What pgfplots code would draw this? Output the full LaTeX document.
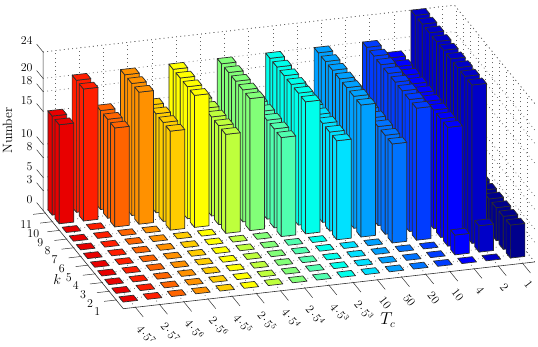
\documentclass[border=0pt]{standalone}
\usepackage{pgfplots}
\usepackage{pgfplotstable}
\pgfplotsset{compat=1.18}

% one colour per T_c column
\definecolor{c1}{RGB}{232,0,0}
\definecolor{c2}{RGB}{255,30,0}
\definecolor{c3}{RGB}{255,100,0}
\definecolor{c4}{RGB}{255,145,0}
\definecolor{c5}{RGB}{255,205,0}
\definecolor{c6}{RGB}{255,255,0}
\definecolor{c7}{RGB}{190,255,60}
\definecolor{c8}{RGB}{130,255,120}
\definecolor{c9}{RGB}{80,255,175}
\definecolor{c10}{RGB}{0,255,235}
\definecolor{c11}{RGB}{0,225,255}
\definecolor{c12}{RGB}{0,160,255}
\definecolor{c13}{RGB}{0,115,255}
\definecolor{c14}{RGB}{0,60,255}
\definecolor{c15}{RGB}{0,0,255}
\definecolor{c16}{RGB}{0,0,200}
\definecolor{c17}{RGB}{0,0,140}
\definecolor{edge}{RGB}{45,45,45}

% rows are k = 1..11, columns are the T_c positions
\pgfplotstableread{
k c1 c2 c3 c4 c5 c6 c7 c8 c9 c10 c11 c12 c13 c14 c15 c16 c17
1 0 0 0 0 0 0 0 0 0 0 0 0 0 0 0 0 5
2 0 0 0 0 0 0 0 0 0 0 0 0 0 0 3 4 5
3 0 0 0 0 0 0 0 0 0 0 0 0 0 0 18 24 5
4 0 0 0 0 0 0 0 0 0 0 0 0 15 20 18 24 5
5 0 0 0 0 0 0 0 0 0 0 15 20 15 20 18 24 5
6 0 0 0 0 0 0 0 0 15 20 15 20 15 20 18 24 5
7 0 0 0 0 0 0 15 20 15 20 15 20 15 20 18 24 5
8 0 0 0 0 15 20 15 20 15 20 15 20 15 20 18 24 5
9 0 0 15 20 15 20 15 20 15 20 15 20 15 20 18 24 5
10 15 20 15 20 15 20 15 20 15 20 15 20 15 20 18 24 5
11 15 20 15 20 15 20 15 20 15 20 15 20 15 20 18 24 5
}\heights

\def\hw{0.3}
\newcommand{\onebar}[3]{% column, row, colour
  \pgfmathtruncatemacro{\r}{#2-1}
  \pgfplotstablegetelem{\r}{c#1}\of\heights
  \let\h\pgfplotsretval
  \pgfmathsetmacro{\xa}{#1-\hw}\pgfmathsetmacro{\xb}{#1+\hw}
  \pgfmathsetmacro{\ya}{#2-\hw}\pgfmathsetmacro{\yb}{#2+\hw}
  \pgfmathtruncatemacro{\flat}{\h==0 ? 1 : 0}
  \ifnum\flat=0
    \edef\doit{\noexpand\addplot3[bar face,fill=#3] coordinates {(\xa,\ya,0) (\xa,\yb,0) (\xa,\yb,\h) (\xa,\ya,\h)} -- cycle;
      \noexpand\addplot3[bar face,fill=#3] coordinates {(\xa,\ya,0) (\xb,\ya,0) (\xb,\ya,\h) (\xa,\ya,\h)} -- cycle;}
    \doit
  \fi
  \edef\doit{\noexpand\addplot3[bar face,fill=#3] coordinates {(\xa,\ya,\h) (\xb,\ya,\h) (\xb,\yb,\h) (\xa,\yb,\h)} -- cycle;}
  \doit
}

\tikzset{griddots/.style={black!60,line width=0.7pt,dash pattern=on 0.8pt off 3.4pt}}
\newcommand{\tl}[2]{$#1\mkern-2.5mu\cdot\mkern-2.5mu5^{#2}$}

\begin{document}
\begin{tikzpicture}
\useasboundingbox (0,0) rectangle (538bp,347bp);
\begin{axis}[
  at={(123.3bp,38.3bp)}, anchor=origin,
  x={(24.2bp,2.75bp)}, y={(-7.1bp,8.7bp)}, z={(0bp,6.6bp)},
  xmin=0.5, xmax=17.5, ymin=0, ymax=11.3, zmin=0, zmax=24,
  clip=false,
  axis line style={draw=none},
  grid=major, grid style={griddots},
  tick style={draw=none},
  major tick length=10bp,
  xtick={1,...,17},
  xticklabels={\tl47,\tl27,\tl46,\tl26,\tl45,\tl25,\tl44,\tl24,\tl43,\tl23,10,50,20,10,4,2,1},
  ytick={1,...,11},
  ztick={0,3,5,8,10,15,18,20,24},
  tick label style={font=\fontsize{12}{14}\selectfont},
  x tick label style={xshift=2bp,yshift=-16bp,anchor=west,rotate=-52},
  y tick label style={anchor=center,xshift=-19bp,yshift=-12bp},
  z tick label style={anchor=east,xshift=-7bp,yshift=11bp},
  xlabel={$T_c$}, ylabel={$k$}, zlabel={Number},
  every axis x label/.style={at={(axis cs:10.15,-4.37,0)},anchor=center,font=\fontsize{16}{18}\selectfont},
  every axis y label/.style={at={(axis cs:-1.08,3.91,0)},anchor=center,font=\fontsize{15}{17}\selectfont},
  every axis z label/.style={at={(axis cs:0.5,16.3,5.5)},rotate=90,anchor=center,font=\fontsize{13.5}{16}\selectfont},
  bar face/.style={draw=edge,line width=0.7pt,line join=round,forget plot},
]
\draw[griddots] (axis cs:0.5,11.3,24) -- (axis cs:17.5,11.3,24) -- (axis cs:17.5,0,24);
\draw[griddots] (axis cs:17.5,0,0) -- (axis cs:17.5,11.3,0);
\draw[black!80,line width=0.6pt] (axis cs:17.5,0,0) -- (axis cs:0.5,0,0) -- (axis cs:0.5,11.3,0) -- (axis cs:0.5,11.3,24);
\pgfplotsinvokeforeach{1,...,17}{\draw[black!80,line width=0.5pt] (axis cs:#1,0,0) -- (axis cs:#1,-1.1,0);}
\pgfplotsinvokeforeach{1,...,11}{\draw[black!80,line width=0.5pt] (axis cs:0.5,#1,0) -- (axis cs:0,#1,0);}
\pgfplotsinvokeforeach{0,3,5,8,10,15,18,20,24}{\draw[black!80,line width=0.5pt] (axis cs:0.5,11.3,#1) -- (axis cs:0.5,12.2,#1);}
\foreach \j in {17,...,1}{
  \foreach \k in {11,...,1}{
    \onebar{\j}{\k}{c\j}
  }
}
\end{axis}
\end{tikzpicture}
\end{document}
